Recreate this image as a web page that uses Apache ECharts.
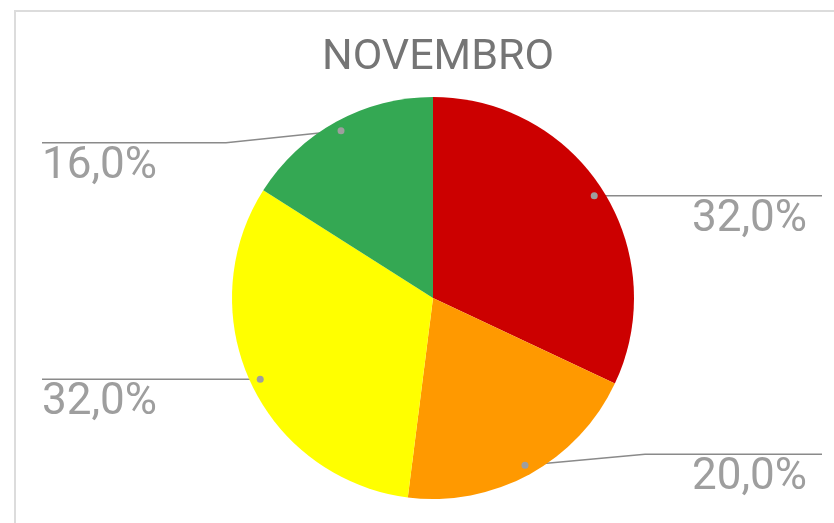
<!DOCTYPE html>
<html><head><meta charset="utf-8">
<script src="https://cdn.jsdelivr.net/npm/echarts@6/dist/echarts.min.js"></script>
<style>html,body{margin:0;padding:0;background:#fff}#c{width:834px;height:523px}</style>
</head><body><div id="c"></div>
<script>
const titleText = 'NOVEMBRO';
const categories = ['Vermelho', 'Laranja', 'Amarelo', 'Verde'];
const values = [32, 20, 32, 16];
const colors = ['#cc0000', '#ff9900', '#ffff00', '#34a853'];

const CX = 433, CY = 298, R = 201;
const DOT_R = 0.95 * R;
const lineShift = [0, -11, 0, 12];

const total = values.reduce((a, b) => a + b, 0);
function midAngle(i) {
  let s = 0;
  for (let k = 0; k < i; k++) s += values[k];
  return ((s + values[i] / 2) / total) * 2 * Math.PI;
}
function dotPoint(i) {
  const a = midAngle(i);
  return [CX + DOT_R * Math.sin(a), CY - DOT_R * Math.cos(a)];
}

const chart = echarts.init(document.getElementById('c'), null, {renderer: 'canvas'});
const dots = values.map((v, i) => {
  const p = dotPoint(i);
  return {type: 'circle', shape: {cx: p[0], cy: p[1], r: 3.5}, style: {fill: '#9e9e9e'}, z: 100};
});

chart.setOption({
  animation: false,
  title: {
    text: titleText, left: CX, top: 32, textAlign: 'center',
    textStyle: {fontFamily: 'Roboto', fontSize: 43, fontWeight: 'normal', color: '#757575'}
  },
  graphic: [
    {type: 'rect', shape: {x: 15, y: 11, width: 840, height: 540}, style: {fill: 'none', stroke: '#dcdcdc', lineWidth: 2}, z: -1}
  ].concat(dots),
  series: [{
    type: 'pie',
    center: [CX, CY],
    radius: [0, R],
    startAngle: 90,
    clockwise: true,
    avoidLabelOverlap: false,
    data: categories.map((c, i) => ({name: c, value: values[i], itemStyle: {color: colors[i]}})),
    itemStyle: {borderWidth: 0},
    emphasis: {disabled: true},
    label: {
      show: true,
      position: 'outside',
      formatter: p => p.percent.toFixed(1).replace('.', ',') + '%',
      fontFamily: 'Roboto', fontSize: 44, color: '#9e9e9e'
    },
    labelLine: {show: true, lineStyle: {color: '#8a8a8a', width: 1.5}},
    labelLayout: function (params) {
      const i = params.dataIndex;
      const p = dotPoint(i);
      const left = p[0] < CX;
      const ly = p[1] + lineShift[i];
      const endX = left ? 42 : 822;
      const bendX = left ? p[0] - 115 : p[0] + 120;
      return {
        x: left ? 42 : 807,
        y: ly + 2,
        align: left ? 'left' : 'right',
        verticalAlign: 'top',
        labelLinePoints: [p, [bendX, ly], [endX, ly]]
      };
    }
  }]
});
</script></body></html>
